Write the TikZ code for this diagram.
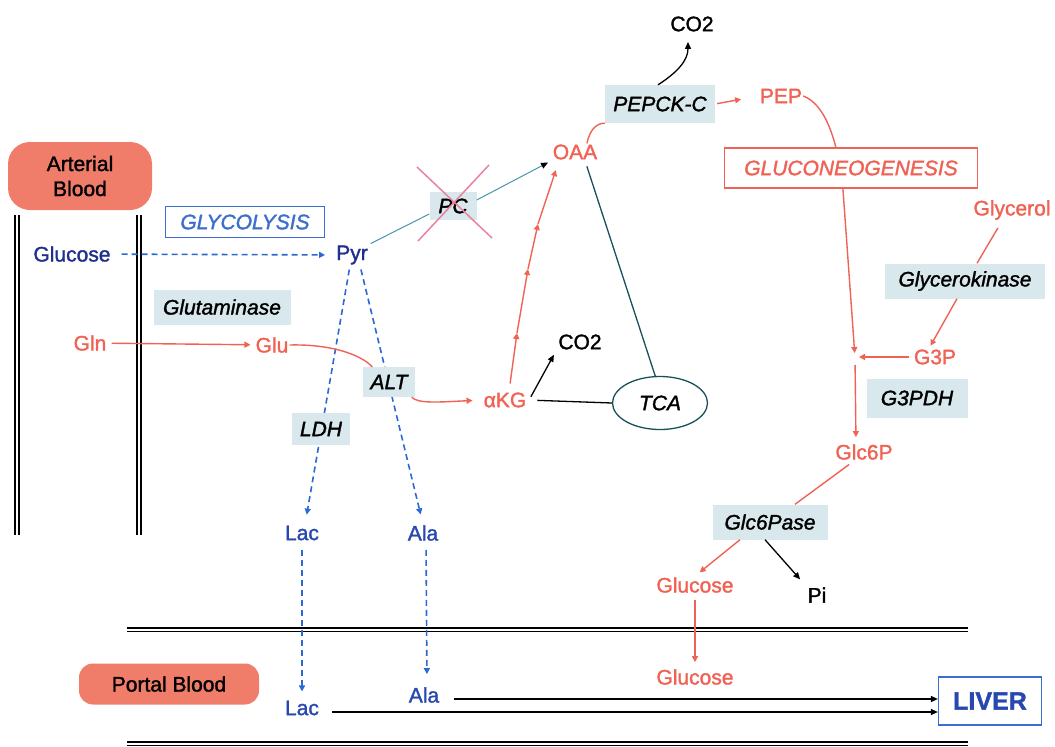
\documentclass[tikz,border=0pt]{standalone}
\usepackage{fontspec}
\setmainfont{Liberation Sans}[FakeBold=1.5]
\usetikzlibrary{arrows.meta,positioning,shapes.geometric}
\definecolor{metred}{RGB}{240,98,84}
\definecolor{metblue}{RGB}{32,48,140}
\definecolor{lacblue}{RGB}{40,72,175}
\definecolor{dashblue}{RGB}{45,105,210}
\definecolor{enzgray}{RGB}{216,232,236}
\definecolor{bloodsalmon}{RGB}{240,124,106}
\definecolor{pcteal}{RGB}{70,150,170}
\definecolor{tcateal}{RGB}{25,80,90}
\definecolor{crosspink}{RGB}{232,130,160}
\definecolor{boxblue}{RGB}{60,110,205}
\newcommand{\figfont}{\fontsize{21}{25}\selectfont}

\begin{document}
\begin{tikzpicture}[x=1pt,y=-1pt,
  font=\figfont,
  redmet/.style={text=metred,inner sep=1pt},
  bluemet/.style={text=metblue,inner sep=1pt},
  lacmet/.style={text=lacblue,inner sep=1pt},
  enz/.style={fill=enzgray,font=\figfont\itshape,inner xsep=8pt,minimum height=33pt},
  blood/.style={fill=bloodsalmon,align=center},
  pathbox/.style={draw,line width=1.2pt,fill=white,font=\figfont\itshape,inner xsep=10pt,minimum height=31pt},
  rarr/.style={-{Triangle[length=6pt,width=6pt]},draw=metred,line width=1.4pt},
  rline/.style={draw=metred,line width=1.4pt},
  barr/.style={-{Triangle[length=6pt,width=6pt]},draw=dashblue,line width=1.6pt,dash pattern=on 6pt off 4pt},
  karr/.style={-{Triangle[length=7pt,width=6pt]},line width=1.3pt},
  wall/.style={double,double distance=2pt,line width=2pt}
]
\useasboundingbox (0,0) rectangle (1055,747);

% vessel walls
\draw[wall] (16.5,215) -- (16.5,535);
\draw[wall] (139,215) -- (139,535);
\draw[wall,line width=1.8pt] (127,629.5) -- (968,629.5);
\draw[wall,line width=1.8pt] (127,743.5) -- (968,743.5);

% blood compartments
\node[blood,minimum width=144pt,minimum height=68pt,rounded corners=22pt] (artblood) at (80,176) {Arterial\\Blood};
\node[blood,minimum width=180pt,minimum height=41pt,rounded corners=14pt] (portal) at (169,684) {Portal Blood};
\node[pathbox,draw=boxblue,text=boxblue,minimum width=159pt] (glyco) at (245,222) {GLYCOLYSIS};

% metabolites
\node[bluemet] (glcin) at (72,254) {Glucose};
\node[bluemet] (pyr) at (352,255) {Pyr};
\node[redmet] (gln) at (90,343) {Gln};
\node[redmet] (glu) at (272,345) {Glu};
\node[redmet] (akg) at (505,400) {αKG};
\node (co2a) at (580,342) {CO2};
\node[redmet] (oaa) at (575,152) {OAA};
\node (co2b) at (692,24) {CO2};
\node[redmet] (pep) at (781,96) {PEP};
\node[redmet] (glycerol) at (1012,210) {Glycerol};
\node[redmet] (g3p) at (935,357) {G3P};
\node[redmet] (glc6p) at (864,452) {Glc6P};
\node[redmet] (glcout) at (695,585) {Glucose};
\node (pi) at (817,595) {Pi};
\node[redmet] (glcpb) at (695,677) {Glucose};
\node[lacmet] (lac) at (302,533) {Lac};
\node[lacmet] (ala) at (423,533) {Ala};
\node[lacmet] (lacpb) at (302,708) {Lac};
\node[lacmet] (alapb) at (424,695) {Ala};
\node[draw=boxblue,line width=1.2pt,text=lacblue,font=\fontsize{25}{30}\selectfont\bfseries,minimum width=103pt,minimum height=48pt] (liver) at (990,701) {LIVER};
\node[ellipse,draw=tcateal,line width=1.3pt,minimum width=95pt,minimum height=53pt,font=\figfont\itshape] (tca) at (660,403) {TCA};
\coordinate (gjoin) at (855,357);
\coordinate (ch1) at (517,333);
\coordinate (ch2) at (528,269);
\coordinate (ch3) at (538,224);

% glycolysis side (dashed)
\draw[barr,shorten <=10pt,shorten >=10pt] (glcin) -- (pyr);
\draw[barr,shorten <=4pt,shorten >=10pt] ([xshift=-2pt]pyr.south) -- ([xshift=3pt]lac.north);
\draw[barr,shorten <=4pt,shorten >=10pt] ([xshift=8pt]pyr.south) -- (ala.north);
\draw[barr,shorten <=8pt,shorten >=8pt] (lac.south) -- (lacpb.north);
\draw[barr,shorten <=8pt,shorten >=12pt] ([xshift=3pt]ala.south) -- ([xshift=3pt]alapb.north);

% PEP curve behind the box
\draw[rarr,shorten >=4pt] (pep.east) .. controls (825,104) and (838,140) .. (843,190) -- (gjoin);
\node[pathbox,draw=metred,text=metred,minimum width=253pt,minimum height=40pt] (gng) at (851,168) {GLUCONEOGENESIS};

% enzymes
\node[enz,minimum width=137pt,minimum height=35pt] (glnase) at (222,307) {Glutaminase};
\node[enz,minimum height=30pt] (alt) at (389,382) {ALT};
\node[enz,minimum height=32pt] (ldh) at (321,429) {LDH};
\node[enz,minimum height=28pt,minimum width=47pt] (pc) at (453,206) {PC};
\node[enz,minimum width=110pt,minimum height=38pt] (pepck) at (660,104) {PEPCK-C};
\node[enz,minimum width=160pt,minimum height=35pt] (gk) at (965,281) {Glycerokinase};
\node[enz,minimum width=101pt,minimum height=39pt] (g3pdh) at (917,398) {G3PDH};
\node[enz,minimum width=115pt,minimum height=35pt] (g6pase) at (770,522) {Glc6Pase};

% glutamine route
\draw[rarr,shorten <=4pt,shorten >=4pt] (gln) -- (glu);
\draw[rline] (glu.east) .. controls (330,344) and (360,354) .. ([xshift=10pt]alt.north west);
\draw[rarr,shorten >=10pt] ([xshift=-4pt]alt.south east) .. controls (418,404) and (440,402) .. (akg.west);
\draw[rarr,shorten <=8pt] ([xshift=4pt]akg.north) -- (ch1);
\draw[rarr] (ch1) -- (ch2);
\draw[rarr] (ch2) -- (ch3);
\draw[rarr,shorten >=10pt] (ch3) -- ([xshift=-16pt]oaa.south);
\draw[karr,shorten <=3pt,shorten >=2pt] ([xshift=2pt,yshift=-8pt]akg.north east) -- (co2a.south west);
\draw[line width=1.3pt,shorten <=10pt] (akg.east) -- (tca.west);
\draw[tcateal,line width=1.3pt,shorten <=6pt] ([xshift=10pt]oaa.south) -- (tca.100);

% pyruvate carboxylase (blocked)
\draw[pcteal,line width=1pt,shorten <=2pt] (pyr.north east) -- ([yshift=-8pt]pc.west);
\draw[pcteal,line width=1pt,-{Triangle[color=black,length=7pt,width=6pt]},shorten >=4pt] ([yshift=6pt]pc.east) -- (oaa.south west);
\draw[crosspink,line width=1.5pt] ([shift={(-36pt,39pt)}]pc.center) -- ([shift={(39pt,-32pt)}]pc.center);
\draw[crosspink,line width=1.5pt] ([shift={(36pt,41pt)}]pc.center) -- ([shift={(-35pt,-35pt)}]pc.center);

% gluconeogenesis
\draw[rline] ([xshift=12pt]oaa.north) .. controls (590,128) and (598,123) .. (pepck.south west);
\draw[karr,shorten >=7pt] ([xshift=-2pt]pepck.north) .. controls (678,72) and (688,60) .. ([xshift=-4pt]co2b.south);
\draw[rarr,shorten <=2pt,shorten >=18pt] (pepck.east) -- (pep.west);
\draw[rline,shorten <=8pt] ([xshift=-10pt]glycerol.south) -- ([xshift=12pt]gk.north);
\draw[rarr,shorten >=3pt] ([xshift=-8pt]gk.south) -- ([xshift=-6pt]g3p.north);
\draw[rarr,shorten <=4pt,shorten >=4pt] (g3p.west) -- (gjoin);
\draw[rarr,shorten <=8pt,shorten >=6pt] (gjoin) -- ([xshift=-8pt]glc6p.north);
\draw[rline,shorten <=6pt] ([xshift=-10pt]glc6p.south) -- ([xshift=25pt]g6pase.north);
\draw[rarr,shorten >=6pt] ([xshift=-30pt]g6pase.south) -- (glcout.north);
\draw[karr,shorten >=6pt] ([xshift=-5pt]g6pase.south) -- (pi.north west);
\draw[rarr,shorten <=6pt,shorten >=6pt] (glcout.south) -- (glcpb.north);

% export to the liver
\draw[karr] ([yshift=-4pt,xshift=12pt]lacpb.east) -- ([yshift=-11pt]liver.west);
\draw[karr] ([yshift=-4pt,xshift=14pt]alapb.east) -- ([yshift=2pt]liver.west);
\end{tikzpicture}
\end{document}
